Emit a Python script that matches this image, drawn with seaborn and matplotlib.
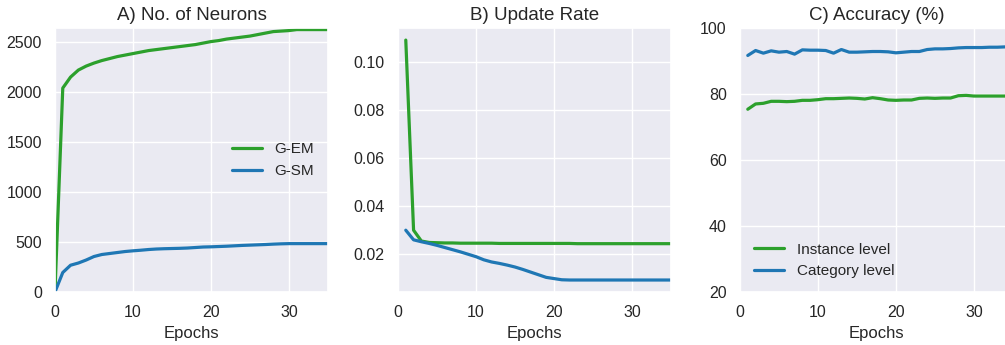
import numpy as np
import pandas as pd
import matplotlib
import matplotlib.pyplot as plt
import seaborn as sns

matplotlib.use("Agg")

# A) number of neurons, epochs 0..35
epochs_a = list(range(0, 36))
neurons_gem = [0, 2040, 2150, 2220, 2260, 2290, 2315, 2335, 2355, 2370,
               2385, 2400, 2415, 2425, 2435, 2445, 2455, 2465, 2475, 2490,
               2505, 2515, 2530, 2540, 2550, 2560, 2575, 2590, 2605, 2610,
               2615, 2625, 2625, 2625, 2625, 2625]
neurons_gsm = [0, 195, 268, 290, 320, 355, 375, 385, 395, 405,
               412, 418, 425, 430, 433, 435, 437, 440, 445, 450,
               452, 455, 458, 462, 466, 469, 472, 475, 479, 482,
               484, 484, 484, 484, 484, 484]

# B) update rate, epochs 1..35
epochs_b = list(range(1, 36))
rate_gem = [0.109, 0.030, 0.0255, 0.0249, 0.0248, 0.0247, 0.0247, 0.0246, 0.0246, 0.0246,
            0.0246, 0.0246, 0.0245, 0.0245, 0.0245, 0.0245, 0.0245, 0.0245, 0.0245, 0.0245,
            0.0245, 0.0245, 0.0244, 0.0244, 0.0244, 0.0244, 0.0244, 0.0244, 0.0244, 0.0244,
            0.0244, 0.0244, 0.0244, 0.0244, 0.0244]
rate_gsm = [0.030, 0.026, 0.0252, 0.0245, 0.0237, 0.0228, 0.0219, 0.0210, 0.0200, 0.0190,
            0.0177, 0.0168, 0.0162, 0.0155, 0.0147, 0.0137, 0.0126, 0.0115, 0.0104, 0.0099,
            0.0094, 0.0093, 0.0093, 0.0093, 0.0093, 0.0093, 0.0093, 0.0093, 0.0093, 0.0093,
            0.0093, 0.0093, 0.0093, 0.0093, 0.0093]

# C) accuracy, epochs 1..35
epochs_c = list(range(1, 36))
acc_instance = [75.4, 77.0, 77.2, 77.8, 77.8, 77.7, 77.8, 78.1, 78.1, 78.3,
                78.6, 78.6, 78.7, 78.8, 78.7, 78.5, 78.9, 78.6, 78.2, 78.1,
                78.2, 78.2, 78.7, 78.8, 78.7, 78.8, 78.8, 79.5, 79.6, 79.4,
                79.4, 79.4, 79.4, 79.4, 79.4]
acc_category = [91.7, 93.2, 92.4, 93.1, 92.7, 92.9, 92.1, 93.4, 93.3, 93.3,
                93.2, 92.4, 93.5, 92.7, 92.7, 92.8, 92.9, 92.9, 92.8, 92.5,
                92.7, 92.9, 92.9, 93.5, 93.7, 93.7, 93.8, 94.0, 94.1, 94.1,
                94.1, 94.2, 94.2, 94.3, 94.3]

sns.set_theme(style="darkgrid")
plt.rcParams["font.family"] = ["Liberation Sans", "DejaVu Sans"]
plt.rcParams["xtick.labelsize"] = 11.5
plt.rcParams["ytick.labelsize"] = 11.5
plt.rcParams["axes.labelsize"] = 12
plt.rcParams["axes.titlesize"] = 13.5
plt.rcParams["legend.fontsize"] = 11

green = "#2ca02c"
blue = "#1f77b4"
lw = 2.3

fig = plt.figure(figsize=(10.05, 3.45), dpi=100)
ax1 = fig.add_axes([0.0547, 0.1536, 0.2716, 0.765])
ax2 = fig.add_axes([0.396, 0.1536, 0.2716, 0.765])
ax3 = fig.add_axes([0.7363, 0.1536, 0.2716, 0.765])

# panel A
df_a = pd.DataFrame({"Epochs": epochs_a * 2,
                     "value": neurons_gem + neurons_gsm,
                     "model": ["G-EM"] * len(epochs_a) + ["G-SM"] * len(epochs_a)})
sns.lineplot(data=df_a, x="Epochs", y="value", hue="model",
             palette=[green, blue], linewidth=lw, ax=ax1)
ax1.set_xlim(0, 35)
ax1.set_ylim(0, 2640)
ax1.set_ylabel("")
ax1.set_title("A) No. of Neurons")
ax1.legend(loc="center right", frameon=False, title=None)

# panel B
df_b = pd.DataFrame({"Epochs": epochs_b * 2,
                     "value": rate_gem + rate_gsm,
                     "model": ["G-EM"] * len(epochs_b) + ["G-SM"] * len(epochs_b)})
sns.lineplot(data=df_b, x="Epochs", y="value", hue="model",
             palette=[green, blue], linewidth=lw, ax=ax2, legend=False)
ax2.set_xlim(0, 35)
ax2.set_xticks([0, 10, 20, 30])
ax2.set_yticks([0.02, 0.04, 0.06, 0.08, 0.10])
ax2.set_ylabel("")
ax2.set_title("B) Update Rate")

# panel C
df_c = pd.DataFrame({"Epochs": epochs_c * 2,
                     "value": acc_instance + acc_category,
                     "level": ["Instance level"] * len(epochs_c) + ["Category level"] * len(epochs_c)})
sns.lineplot(data=df_c, x="Epochs", y="value", hue="level",
             palette=[green, blue], linewidth=lw, ax=ax3)
ax3.set_xlim(0, 35)
ax3.set_xticks([0, 10, 20, 30])
ax3.set_ylim(20, 100)
ax3.set_yticks([20, 40, 60, 80, 100])
ax3.set_ylabel("")
ax3.set_title("C) Accuracy (%)")
ax3.legend(loc="lower left", frameon=False, title=None)

fig.savefig("out.png", dpi=100)
